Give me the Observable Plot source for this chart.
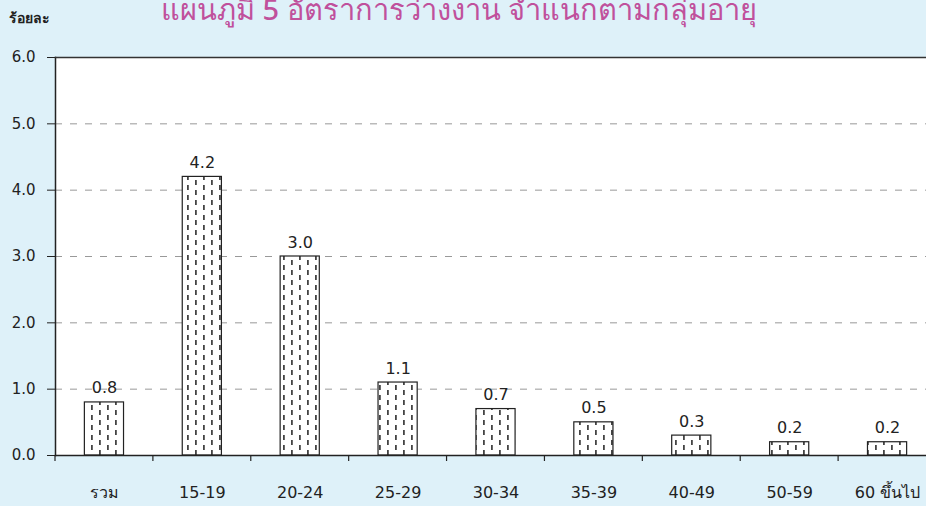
<!DOCTYPE html>
<html><head><meta charset="utf-8">
<script src="https://cdn.jsdelivr.net/npm/d3@7"></script>
<script src="https://cdn.jsdelivr.net/npm/@observablehq/plot@0.6"></script>
<style>
html,body{margin:0;padding:0;background:#def1f9;overflow:hidden;}
</style></head><body><div id="chart"></div>
<script>
const categories = ["รวม","15-19","20-24","25-29","30-34","35-39","40-49","50-59","60 ขึ้นไป"];
const rates = [0.8, 4.2, 3.0, 1.1, 0.7, 0.5, 0.3, 0.2, 0.2];
const yTicks = [0, 1, 2, 3, 4, 5, 6];
const gridTicks = [1, 2, 3, 4, 5];
const title = "แผนภูมิ 5 อัตราการว่างงาน จำแนกตามกลุ่มอายุ";
const yLabel = "ร้อยละ";

const data = categories.map((c, i) => ({cat: c, value: rates[i]}));

const plot = Plot.plot({
  width: 926, height: 506,
  marginLeft: 55, marginRight: -10, marginTop: 57, marginBottom: 51,
  style: {background: "#def1f9", fontFamily: "'DejaVu Sans', Verdana, sans-serif", color: "#222", overflow: "hidden"},
  x: {domain: categories, paddingInner: 0.6, paddingOuter: 0.3, round: false, label: null},
  y: {domain: [0, 6], label: null},
  marks: [
    Plot.frame({fill: "white", stroke: null}),
    Plot.gridY(gridTicks, {stroke: "#999", strokeOpacity: 1, strokeDasharray: "7,8"}),
    Plot.barY(data, {x: "cat", y: "value", fill: "url(#dashes)", stroke: "#222", strokeWidth: 1.2}),
    Plot.text(data, {x: "cat", y: "value", text: d => d.value.toFixed(1), dy: -9, lineAnchor: "bottom", fontSize: 16, fill: "#222"}),
    Plot.axisY(yTicks, {tickFormat: d => d.toFixed(1), tickSize: 8, tickPadding: 12, fontSize: 15, stroke: "#222"}),
    Plot.axisX({tickSize: 0, tickPadding: 31, fontSize: 16}),
    Plot.frame({anchor: "left", stroke: "#222", strokeWidth: 1.5}),
    Plot.frame({anchor: "top", stroke: "#333", strokeWidth: 1.5}),
    Plot.frame({anchor: "bottom", stroke: "#222", strokeWidth: 1.5})
  ]
});

const svg = d3.select(plot);
const defs = svg.insert("defs", ":first-child");
const pat = defs.append("pattern").attr("id", "dashes").attr("patternUnits", "userSpaceOnUse")
  .attr("width", 16).attr("height", 10);
pat.append("rect").attr("width", 16).attr("height", 10).attr("fill", "white");
pat.append("rect").attr("x", 3).attr("y", 0).attr("width", 1.8).attr("height", 5).attr("fill", "#444");
pat.append("rect").attr("x", 11).attr("y", 5).attr("width", 1.8).attr("height", 5).attr("fill", "#444");

// boundary ticks between categories, from the x scale
const xs = plot.scale("x");
const ys = plot.scale("y");
const step = xs.step ?? (xs.apply(categories[1]) - xs.apply(categories[0]));
const bw = xs.bandwidth ?? step * 0.4;
const yBase = ys.apply(0);
const g = svg.append("g").attr("stroke", "#222").attr("stroke-width", 1.2);
categories.forEach(c => {
  const bx = xs.apply(c) - (step - bw) / 2;
  g.append("line").attr("x1", bx).attr("x2", bx).attr("y1", yBase).attr("y2", yBase + 6);
});

svg.append("text").attr("x", 459).attr("y", 20).attr("text-anchor", "middle")
  .attr("font-size", 29).attr("font-weight", 500).attr("fill", "#c0509c").attr("font-family", "'Noto Sans', sans-serif")
  .text(title);
svg.append("text").attr("x", 9).attr("y", 23).attr("text-anchor", "start")
  .attr("font-size", 14).attr("font-weight", "bold").attr("fill", "#222").attr("font-family", "'Noto Sans', sans-serif")
  .text(yLabel);

document.getElementById("chart").append(plot);
</script>
</body></html>
